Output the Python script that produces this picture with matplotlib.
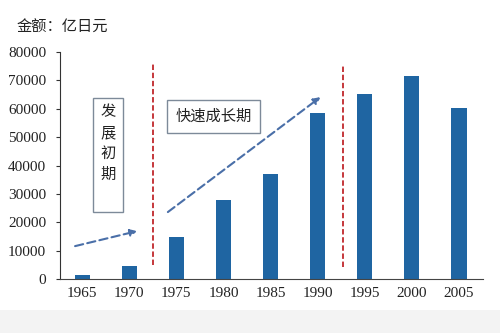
import numpy as np
import matplotlib.pyplot as plt
from matplotlib.patches import Rectangle

plt.rcParams['font.family'] = ['Noto Sans CJK SC', 'DejaVu Sans']

years = ['1965', '1970', '1975', '1980', '1985', '1990', '1995', '2000', '2005']
values = [1400, 4600, 14800, 27800, 37000, 58400, 65100, 71500, 60200]
yticks = [0, 10000, 20000, 30000, 40000, 50000, 60000, 70000, 80000]

fig = plt.figure(figsize=(5, 3.33), dpi=100)
# light grey strip at bottom like the screenshot
fig.patches.append(Rectangle((0, 0), 1, 0.07, transform=fig.transFigure,
                             facecolor='#f3f3f3', edgecolor='none', zorder=0))
ax = fig.add_axes([0.12, 0.162, 0.846, 0.682])

x = np.arange(len(years))
ax.bar(x, values, width=0.32, color='#1f65a2', zorder=2)

ax.set_xlim(-0.47, 8.51)
ax.set_ylim(0, 80000)
ax.set_xticks(x)
ax.set_xticklabels(years, family='Liberation Serif', fontsize=11, color='#222222')
ax.set_yticks(yticks)
ax.set_yticklabels([str(v) for v in yticks], family='Liberation Serif',
                   fontsize=11, color='#222222')
ax.tick_params(axis='x', length=0, pad=6)
ax.tick_params(axis='y', direction='out', length=3, pad=7, color='#333333')
for s in ['top', 'right']:
    ax.spines[s].set_visible(False)
ax.spines['left'].set_color('#333333')
ax.spines['bottom'].set_color('#444444')

# red dividers
ax.plot([1.5, 1.5], [4900, 76000], color='#c0282c', ls=(0, (3, 1.5)), lw=1.3, zorder=3)
ax.plot([5.53, 5.53], [4200, 75300], color='#c0282c', ls=(0, (3, 1.5)), lw=1.3, zorder=3)

# blue dashed arrows
arrow = dict(arrowstyle='-|>', color='#4a6fa8', lw=1.5, ls=(0, (4, 2)),
             mutation_scale=10, shrinkA=0, shrinkB=0)
ax.annotate('', xy=(1.17, 16900), xytext=(-0.15, 11600), arrowprops=arrow)
ax.annotate('', xy=(5.06, 64100), xytext=(1.82, 23600), arrowprops=arrow)

# phase boxes
ax.add_patch(Rectangle((0.23, 23600), 0.64, 40100, fill=False,
                       edgecolor='#7d8a99', lw=1, zorder=3))
ax.text(0.55, 47900, '发\n展\n初\n期', ha='center', va='center',
        fontsize=11, linespacing=1.3, color='#222222')
ax.add_patch(Rectangle((1.80, 51400), 1.97, 11600, fill=False,
                       edgecolor='#7d8a99', lw=1, zorder=3))
ax.text(2.785, 57200, '快速成长期', ha='center', va='center',
        fontsize=11, color='#222222')

fig.text(0.034, 0.918, '金额：亿日元', fontsize=11, color='#222222', va='center')

fig.savefig('out.png', dpi=100)
